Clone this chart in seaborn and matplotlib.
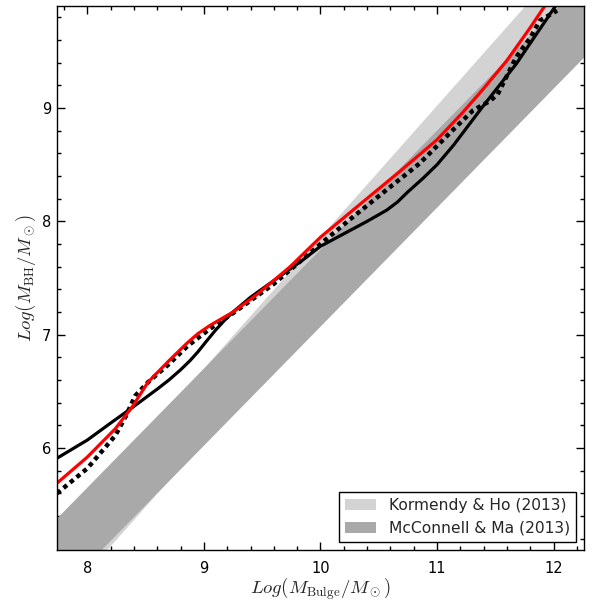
import matplotlib
matplotlib.use("Agg")
import matplotlib.pyplot as plt
from matplotlib.patches import Patch
from matplotlib.ticker import MultipleLocator
import seaborn as sns
import numpy as np

# ---- data ----
band_x = [7.5, 12.5]
kh_lower = [4.32, 10.12]
kh_upper = [4.96, 10.76]
mm_lower = [4.445, 9.695]
mm_upper = [5.125, 10.375]

black_x = [7.74, 8.0, 8.2, 8.39, 8.6, 8.7, 8.8, 8.88, 8.95, 9.02, 9.1, 9.18, 9.25, 9.4,
           9.59, 9.85, 10.0, 10.2, 10.4, 10.57, 10.66, 10.75, 10.88, 11.0, 11.14, 11.39,
           11.68, 11.97, 12.05]
black_y = [5.91, 6.07, 6.22, 6.36, 6.52, 6.60, 6.69, 6.77, 6.85, 6.94, 7.04, 7.13, 7.20,
           7.33, 7.47, 7.66, 7.78, 7.89, 8.0, 8.10, 8.17, 8.26, 8.38, 8.50, 8.67, 9.01,
           9.39, 9.83, 9.95]

red_x = [7.74, 8.0, 8.24, 8.39, 8.52, 8.7, 8.86, 8.95, 9.05, 9.15, 9.25, 9.45, 9.59,
         9.74, 10.0, 10.28, 10.68, 11.0, 11.22, 11.39, 11.6, 11.8, 11.95]
red_y = [5.69, 5.92, 6.17, 6.37, 6.58, 6.77, 6.93, 7.01, 7.08, 7.14, 7.20, 7.35, 7.47,
         7.60, 7.86, 8.10, 8.44, 8.72, 8.96, 9.16, 9.42, 9.71, 9.94]

dot_x = [7.74, 8.0, 8.24, 8.33, 8.41, 8.52, 8.7, 8.86, 9.05, 9.25, 9.59, 10.0, 10.28,
         10.57, 10.85, 11.14, 11.31, 11.45, 11.52, 11.68, 11.80, 11.88, 12.03]
dot_y = [5.60, 5.82, 6.11, 6.28, 6.46, 6.58, 6.74, 6.90, 7.05, 7.19, 7.44, 7.80, 8.04,
         8.28, 8.51, 8.81, 8.98, 9.06, 9.12, 9.45, 9.62, 9.77, 9.86]

legend_labels = ["Kormendy & Ho (2013)", "McConnell & Ma (2013)"]
xticks = [8, 9, 10, 11, 12]
yticks = [6, 7, 8, 9]

# ---- style ----
sns.set_style("ticks")
plt.rcParams["font.family"] = ["DejaVu Sans"]
plt.rcParams["mathtext.fontset"] = "cm"

light = "#d3d3d3"
dark = "#a9a9a9"

fig = plt.figure(figsize=(5.94, 6.02), dpi=100)
ax = fig.add_axes([0.096, 0.0864, 0.887, 0.9036])

ax.fill_between(band_x, kh_lower, kh_upper, color=light, lw=0)
ax.fill_between(band_x, mm_lower, mm_upper, color=dark, lw=0)

sns.lineplot(x=black_x, y=black_y, sort=False, color="black", lw=2.3, ax=ax)
dl = sns.lineplot(x=dot_x, y=dot_y, sort=False, color="black", lw=3.2, ax=ax)
dl.lines[-1].set_dashes((1.0, 0.9))
sns.lineplot(x=red_x, y=red_y, sort=False, color="red", lw=2.3, ax=ax)

ax.set_xlim(7.74, 12.26)
ax.set_ylim(5.1, 9.9)
ax.set_xticks(xticks)
ax.set_yticks(yticks)
ax.xaxis.set_minor_locator(MultipleLocator(0.2))
ax.yaxis.set_minor_locator(MultipleLocator(0.2))
ax.tick_params(which="both", direction="in", top=True, right=True, colors="black",
               labelsize=10.5)
ax.tick_params(which="major", length=6, width=1)
ax.tick_params(which="minor", length=3, width=1)
ax.tick_params(axis="x", which="major", pad=8)
ax.tick_params(axis="y", which="major", pad=4)
for s in ax.spines.values():
    s.set_color("black")
    s.set_linewidth(1)

ax.set_xlabel(r"$Log(M_{\rm Bulge}/M_\odot)$", fontsize=13.5, labelpad=0)
ax.set_ylabel(r"$Log(M_{\rm BH}/M_\odot)$", fontsize=13.5, labelpad=3)

handles = [Patch(facecolor=light, edgecolor="none"), Patch(facecolor=dark, edgecolor="none")]
leg = ax.legend(handles, legend_labels, loc="lower right", fontsize=11.2, fancybox=False,
                framealpha=1, edgecolor="black", handlelength=2.0, borderaxespad=0.5)
leg.get_frame().set_linewidth(1)

fig.savefig("out.png", dpi=100)
